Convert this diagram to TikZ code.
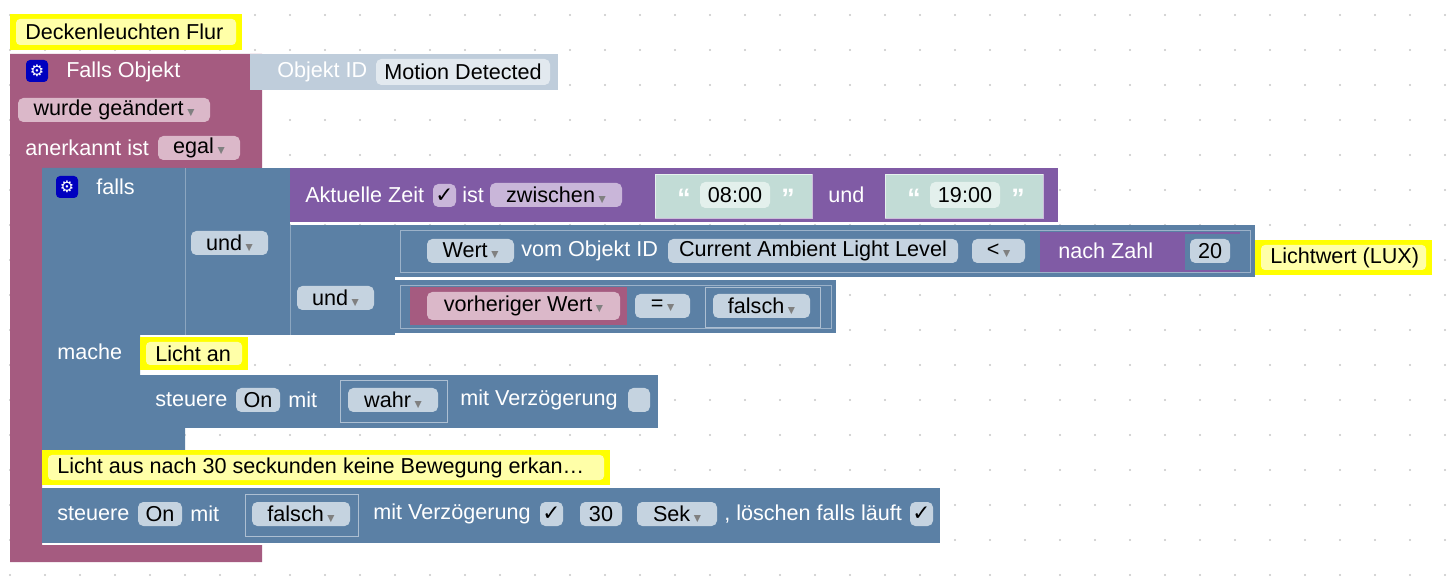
\documentclass[tikz,border=0pt]{standalone}
\usepackage{fontspec}
\setmainfont{Liberation Sans}
\newfontfamily\dv{DejaVu Sans}
\definecolor{evt}{HTML}{A55B80}
\definecolor{blk}{HTML}{5B80A5}
\definecolor{pur}{HTML}{805BA5}
\definecolor{oid}{HTML}{BFCDDB}
\definecolor{fb}{HTML}{C5D3E0}
\definecolor{fp}{HTML}{DBB8C9}
\definecolor{fpu}{HTML}{C9B6D9}
\definecolor{grn}{HTML}{C2DCD6}
\definecolor{fg}{HTML}{E3F0EC}
\definecolor{cy}{HTML}{FFFF00}
\definecolor{cyi}{HTML}{FFFFA8}
\newcommand{\fs}{\fontsize{16.2}{18}\selectfont}
\newcommand{\fld}[6]{\fill[#5,rounded corners=4pt] (#1,#2) rectangle (#3,#4); \node[font=\fs,text=black] at ({(#1+#3)/2},{(#2+#4)/2}) {#6};}
\newcommand{\lab}[3]{\node[anchor=west,font=\fs,text=white,inner sep=0] at (#1,#2) {#3};}
\newcommand{\ar}{\,{\dv\fontsize{7}{8}\selectfont\color{gray}▼}}
\newcommand{\cmt}[5]{\fill[cy] (#1,#2) rectangle (#3,#4); \fill[cyi,rounded corners=3pt] ({#1+6},{#2+5}) rectangle ({#3-6},{#4-5}); \node[anchor=west,font=\fs,inner sep=0] at ({#1+15},{(#2+#4)/2}) {#5};}
\newcommand{\gear}[2]{\fill[blue!75!black,rounded corners=3pt] (#1,#2) rectangle ({#1+22},{#2+22}); \node[text=white,font=\dv\fontsize{12}{12}\selectfont] at ({#1+11},{#2+11}) {⚙};}
\begin{document}
\begin{tikzpicture}[x=0.75pt,y=-0.75pt]
\useasboundingbox (0,0) rectangle (1453,584);
\fill[white] (0,0) rectangle (1453,584);
\foreach \i in {0,...,41} \foreach \j in {0,...,16} \fill[gray!45] ({10+35*\i},{15+35*\j}) circle (1.2);
% event block
\fill[evt] (10,54) -- (262,54) -- (262,168) -- (42,168) -- (42,545) -- (262,545) -- (262,562) -- (10,562) -- cycle;
\cmt{10}{14}{242}{50}{Deckenleuchten Flur}
\gear{26}{60}
\lab{66}{72}{Falls Objekt}
\fill[oid] (250,54) rectangle (558,90);
\lab{277}{72}{Objekt ID}
\fld{376}{59}{550}{85}{fb!50!white}{Motion Detected}
\fld{18}{98}{210}{122}{fp}{wurde geändert\ar}
\lab{25}{148}{anerkannt ist}
\fld{158}{136}{240}{160}{fp}{egal\ar}
% if block
\fill[blk] (42,168) -- (185,168) -- (185,335) -- (140,335) -- (140,428) -- (185,428) -- (185,450) -- (42,450) -- cycle;
\gear{56}{176}
\lab{96}{187}{falls}
\lab{57}{352}{mache}
\fill[blk] (185,168) rectangle (290,335); \draw[blk!70!white] (185,168) -- (185,335);
\fld{191}{231}{268}{255}{fb}{und\ar}
\fill[blk] (290,225) rectangle (395,335); \draw[blk!70!white] (290,225) -- (290,335);
\fld{297}{286}{374}{310}{fb}{und\ar}
% Aktuelle Zeit
\fill[pur] (290,168) rectangle (1058,222);
\lab{305}{195}{Aktuelle Zeit}
\fld{433}{184}{456}{207}{fpu}{{\dv ✓}}
\lab{462}{195}{ist}
\fld{490}{183}{622}{207}{fpu}{zwischen\ar}
\fill[grn] (655,174) rectangle (812,218); \draw[white,opacity=.6] (655,174) rectangle (812,218);
\node[text=white,font=\bfseries\fontsize{20}{20}\selectfont] at (684,198) {“}; \node[text=white,font=\bfseries\fontsize{20}{20}\selectfont] at (788,198) {”};
\fld{700}{182}{770}{208}{fg}{08:00}
\lab{828}{195}{und}
\fill[grn] (885,174) rectangle (1043,218); \draw[white,opacity=.6] (885,174) rectangle (1043,218);
\node[text=white,font=\bfseries\fontsize{20}{20}\selectfont] at (914,198) {“}; \node[text=white,font=\bfseries\fontsize{20}{20}\selectfont] at (1018,198) {”};
\fld{930}{182}{1000}{208}{fg}{19:00}
% Wert block
\fill[blk] (395,225) rectangle (1255,277); \draw[white,opacity=.4] (400,230) rectangle (1250,272);
\fld{427}{239}{514}{263}{fb}{Wert\ar}
\lab{521}{251}{vom Objekt ID}
\fld{668}{239}{958}{263}{fb}{Current Ambient Light Level}
\fld{972}{239}{1025}{263}{fb}{<\ar}
\fill[pur] (1040,232) rectangle (1240,272);
\lab{1058}{251}{nach Zahl}
\fill[blk] (1185,234) rectangle (1240,270);
\fld{1190}{239}{1230}{263}{fb}{20}
\cmt{1255}{240}{1432}{275}{Lichtwert (LUX)}
% compare
\fill[blk] (395,280) rectangle (836,333); \draw[white,opacity=.4] (400,285) rectangle (831,328);
\fill[evt] (410,287) rectangle (627,325);
\fld{427}{292}{620}{320}{fp}{vorheriger Wert\ar}
\fld{635}{294}{690}{318}{fb}{=\ar}
\draw[white,opacity=.5,fill=blk] (705,287) rectangle (820,327);
\fld{713}{294}{810}{318}{fb}{falsch\ar}
% statement 1
\cmt{140}{337}{248}{370}{Licht an}
\fill[blk] (140,375) rectangle (658,428);
\lab{155}{400}{steuere}
\fld{236}{388}{280}{412}{fb}{On}
\lab{288}{400}{mit}
\draw[white,opacity=.5,fill=blk] (340,380) rectangle (447,422);
\fld{348}{388}{438}{412}{fb}{wahr\ar}
\lab{460}{400}{mit Verzögerung}
\fld{628}{388}{650}{412}{fb}{}
% comment 2 and statement 2
\cmt{42}{450}{610}{485}{Licht aus nach 30 seckunden keine Bewegung erkan…}
\fill[blk] (42,488) rectangle (940,543);
\lab{57}{514}{steuere}
\fld{138}{502}{182}{526}{fb}{On}
\lab{190}{514}{mit}
\draw[white,opacity=.5,fill=blk] (245,494) rectangle (358,536);
\fld{252}{502}{350}{526}{fb}{falsch\ar}
\lab{373}{514}{mit Verzögerung}
\fld{540}{502}{563}{526}{fb}{{\dv ✓}}
\fld{580}{502}{622}{526}{fb}{30}
\fld{637}{502}{717}{526}{fb}{Sek\ar}
\lab{724}{514}{, löschen falls läuft}
\fld{910}{502}{933}{526}{fb}{{\dv ✓}}
\end{tikzpicture}
\end{document}
